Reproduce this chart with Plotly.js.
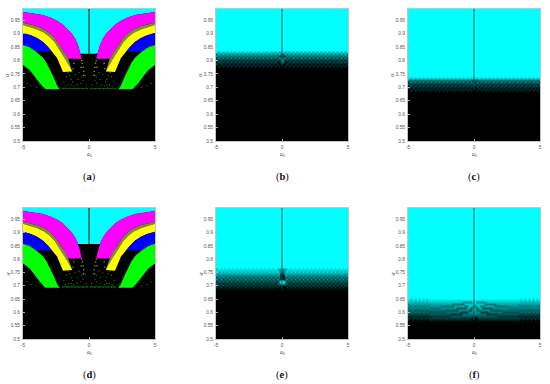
<!DOCTYPE html>
<html><head><meta charset="utf-8">
<script src="https://cdn.plot.ly/plotly-3.0.1.min.js"></script>
<style>html,body{margin:0;padding:0;background:#fff}#c{width:550px;height:384px}</style>
</head><body><div id="c"></div>
<script>
// ---- data (left half; the maps are symmetric in a0) ----
const xTicks = [-5, 0, 5];
const yTicks = [0.5,0.55,0.6,0.65,0.7,0.75,0.8,0.85,0.9,0.95];
const panelLabels = ['a','b','c','d','e','f'];

const magentaTopX = [-5,-4.3,-3.5,-2.9,-2.4,-2,-1.6,-1.3,-1.06,-0.85,-0.68,-0.55];
const magentaTopY = [0.981,0.977,0.97,0.96,0.948,0.935,0.917,0.9,0.882,0.86,0.832,0.806];
const magentaLowX = [-5,-4.5,-3.96,-3.4,-2.95,-2.6,-2.3,-2.05,-1.8,-1.57];
const magentaLowY = [0.941,0.936,0.929,0.917,0.901,0.884,0.863,0.845,0.826,0.806];
const yellowTopX = [-5,-4.5,-3.96,-3.4,-2.95,-2.6,-2.3,-2.05,-1.8,-1.47,-1.27];
const yellowTopY = [0.933,0.926,0.917,0.904,0.887,0.868,0.846,0.826,0.805,0.778,0.759];
const yellowLowX = [-5,-4.4,-3.94,-3.5,-3.1,-2.8,-2.42,-2.2,-1.97];
const yellowLowY = [0.903,0.895,0.884,0.87,0.851,0.833,0.81,0.785,0.757];
const blueLowX = [-5,-4.5,-4.1,-2.8];
const blueLowY = [0.858,0.85,0.833,0.833];
const greenTopX = [-5,-4.5,-4,-3.5,-3.2,-3,-2.7,-2.4,-2.2];
const greenTopY = [0.858,0.85,0.833,0.812,0.79,0.772,0.74,0.705,0.693];
const greenLowX = [-5,-4.5,-4.2,-3.7,-3.3];
const greenLowY = [0.784,0.765,0.746,0.714,0.693];
const cyanFloorA = 0.826, cyanFloorD = 0.857;
const plateauA = 0.807, plateauD = 0.803;

const greenSpeckX = [-2,-1.9,-1.8,-1.7,-1.6,-1.5,-1.4,-1.3,-1.2,-1.1,-1,-0.9,-0.8,-0.7,-0.6,-0.5,-0.4,-0.3,-0.2,-0.1,
 -1.9,-1.7,-1.55,-1.35,-1.6,-1.25,-1.45,-1.15,-0.85,-0.6,-0.75,-0.45,-0.3,-0.55,-0.2,-1.75,-1.05,-4.4,-4.7,-4,-3.8,-3.5,-1.35,-0.9];
const greenSpeckY = [0.696,0.695,0.697,0.695,0.696,0.695,0.697,0.695,0.696,0.695,0.697,0.695,0.696,0.695,0.697,0.695,0.696,0.695,0.697,0.695,
 0.72,0.74,0.71,0.73,0.755,0.72,0.745,0.705,0.73,0.715,0.755,0.725,0.745,0.74,0.71,0.705,0.748,0.705,0.715,0.7,0.712,0.698,0.708,0.71];
const yellowSpeckX = [-0.5,-0.45,-0.55,-0.4,-0.6,-0.42,-1.15,-1.2];
const yellowSpeckY = [0.79,0.775,0.8,0.76,0.775,0.745,0.79,0.77];

// Cyan intensity (0-9) of the fringe zones, half rows from a0=-5 to a0=0, bottom row first
const bEdges = [0.768,0.7755,0.783,0.7905,0.798,0.8055,0.813,0.8205,0.828,0.8355,0.995];
const bRows = [
 "000000000000000000000000000000000",
 "020202020202020202020202020202020",
 "202020202020202020202020202020200",
 "131313131313131313131313131313104",
 "313131313131313131313131313131314",
 "252525252525252525252525252525254",
 "535353535353535353535353535353521",
 "474747474747474747474747474747473",
 "868686868686868686868686868686868",
 "999999999999999999999999999999999"];
const cEdges = [0.678,0.6855,0.693,0.7005,0.708,0.7155,0.723,0.7305,0.738,0.995];
const cRows = [
 "000000000000000000000000000000000",
 "020202020202020202020202020202020",
 "202020202020202020202020202020200",
 "131313131313131313131313131313131",
 "313131313131313131313131313131313",
 "252525252525252525252525252525252",
 "535353535353535353535353535353533",
 "878787878787878787878787878787878",
 "999999999999999999999999999999999"];
const eEdges = [0.675,0.683,0.69,0.698,0.705,0.713,0.72,0.728,0.735,0.743,0.75,0.758,0.768,0.995];
const eRows = [
 "000000000000000000000000000000000",
 "010101010101010101010101010101001",
 "202020202020202020202020202020200",
 "131313131313131313131313131313131",
 "313131313131313131313131313131348",
 "242424242424242424242424242424259",
 "525252525252525252525252525252530",
 "353535353535353535353535353535340",
 "646464646464646464646464646464650",
 "575757575757575757575757575757571",
 "868686868686868686868686868686864",
 "797979797979797979797979797979765",
 "999999999999999999999999999999999"];
const fEdges = [0.56,0.567,0.575,0.582,0.59,0.597,0.605,0.612,0.62,0.627,0.635,0.642,0.65,0.658,0.995];
const fRows = [
 "000000000000000000000000000000000",
 "10101010101"+"111111111111111111111"+"0",
 "21212121212"+"22222222222222222222"+"10",
 "12121212121"+"2222222222"+"33333333333"+"2",
 "32323232323"+"3333333333"+"222222"+"44444"+"5",
 "34343434343"+"33333333"+"4444444"+"2222"+"555",
 "43434343434"+"44444444"+"333333"+"55555"+"33"+"6",
 "45454545454"+"44444"+"55555555"+"33333"+"66"+"3"+"6",
 "54545454545"+"55555"+"4444444"+"66666"+"44"+"77"+"4",
 "56565656565"+"66666666666"+"444444"+"7777"+"7",
 "76767676767"+"7777777777777777"+"55555"+"8",
 "87878787878"+"8888888888888888888888",
 "98989898989"+"9999999999999999999999",
 "999999999999999999999999999999999"];

// ---- plot ----
const boxes = [[23,155,9,141],[216,348,9,141],[408,540,9,141],[23,155,208,339],[216,348,208,339],[408,540,208,339]];
const W = 550, H = 384;
const traces = [];
const layout = {width:W,height:H,margin:{l:0,r:0,t:0,b:0},paper_bgcolor:'#fff',plot_bgcolor:'#000',showlegend:false,annotations:[],font:{family:'Liberation Sans, Arial, sans-serif'}};

function poly(xa,ya,xb,yb,color,ax){
  // polygon between two half-curves, drawn on both sides of a0 = 0
  const xs = xa.concat(xb.slice().reverse());
  const ys = ya.concat(yb.slice().reverse());
  const mx = xs.map(v=>-v);
  traces.push({type:'scatter',mode:'lines',x:xs.concat([xs[0],null],mx,[mx[0]]),y:ys.concat([ys[0],null],ys,[ys[0]]),
    fill:'toself',fillcolor:color,line:{width:0,color:color},hoverinfo:'skip',xaxis:ax.x,yaxis:ax.y});
}
function mapPanel(ax,floor,plateau){
  traces.push({type:'scatter',mode:'lines',x:[-5,5,5,-5,-5],y:[floor,floor,0.995,0.995,floor],fill:'toself',fillcolor:'#00ffff',line:{width:0},hoverinfo:'skip',xaxis:ax.x,yaxis:ax.y});
  poly(magentaTopX,magentaTopY,[-5,-0.55],[0.5,0.5],'#000000',ax);
  const last = magentaLowY.length-1;
  const my = magentaLowY.map((v,i)=>i===last?plateau:v);
  const ty = magentaTopY.map((v,i)=>i===magentaTopY.length-1?plateau:v);
  poly(magentaTopX,ty,magentaLowX,my,'#ff00ff',ax);
  poly(magentaLowX,my,yellowTopX,yellowTopY,'#85854a',ax);
  poly(yellowTopX,yellowTopY,yellowLowX,yellowLowY,'#ffff00',ax);
  poly(yellowLowX.slice(0,6),yellowLowY.slice(0,6),blueLowX,blueLowY,'#0000ff',ax);
  poly(greenTopX,greenTopY,greenLowX,greenLowY,'#00ff00',ax);
  const gx = greenSpeckX, rx = gx.map(v=>-v);
  traces.push({type:'scatter',mode:'markers',x:gx.concat(rx),y:greenSpeckY.concat(greenSpeckY),marker:{size:1.1,color:'#0f8a0f',symbol:'square',line:{width:0}},hoverinfo:'skip',xaxis:ax.x,yaxis:ax.y});
  const yx = yellowSpeckX, ryx = yx.map(v=>-v);
  traces.push({type:'scatter',mode:'markers',x:yx.concat(ryx),y:yellowSpeckY.concat(yellowSpeckY),marker:{size:1.3,color:'#98981c',symbol:'square',line:{width:0}},hoverinfo:'skip',xaxis:ax.x,yaxis:ax.y});
  traces.push({type:'scatter',mode:'lines',x:[0,0],y:[floor,0.995],line:{width:1,color:'#000'},hoverinfo:'skip',xaxis:ax.x,yaxis:ax.y});
}
function fringePanel(ax,edges,rows,lineBottom){
  const z = rows.map(r=>{const a=r.split('').map(Number);return a.concat(a.slice().reverse());});
  const n = z[0].length;
  // a steady row above the fringe keeps the blur from spreading into the cyan field
  const e = edges.slice(0,-1).concat([edges[edges.length-2]+0.004,edges[edges.length-1]]);
  z.push(z[z.length-1]);
  traces.push({type:'heatmap',z:z,x0:-5+5/n,dx:10/n,y:e,zmin:0,zmax:9,zsmooth:'best',showscale:false,hoverinfo:'skip',
    colorscale:[[0,'#000000'],[1,'#00ffff']],xaxis:ax.x,yaxis:ax.y});
  traces.push({type:'scatter',mode:'lines',x:[0,0],y:[lineBottom,0.995],line:{width:1,color:'#065f5f'},hoverinfo:'skip',xaxis:ax.x,yaxis:ax.y});
}
boxes.forEach((b,i)=>{
  const s = i===0?'':String(i+1);
  const common = {showgrid:false,zeroline:false,linecolor:'#c4c4c4',linewidth:1,mirror:true,ticks:'inside',ticklen:2,tickcolor:'#aaa',
    tickfont:{size:4.8,color:'#555',family:'Liberation Sans, Arial, sans-serif'}};
  layout['xaxis'+s] = Object.assign({},common,{domain:[b[0]/W,b[1]/W],range:[-5,5],tickvals:xTicks,ticktext:xTicks.map(String),anchor:'y'+s,ticklabelstandoff:1});
  layout['yaxis'+s] = Object.assign({},common,{domain:[1-b[3]/H,1-b[2]/H],range:[0.5,0.9925],tickvals:yTicks,ticktext:yTicks.map(String),anchor:'x'+s,ticklabelstandoff:1});
  const cx = (b[0]+b[1])/2;
  const mid = {xanchor:'center',yanchor:'middle',showarrow:false,xref:'paper',yref:'paper'};
  layout.annotations.push(Object.assign({x:cx/W,y:1-(b[3]+13)/H,text:'<i>a</i><sub>0</sub>',font:{size:5.5,color:'#444',family:'Liberation Serif, serif'}},mid));
  layout.annotations.push(Object.assign({x:(b[0]-16)/W,y:1-((b[2]+b[3])/2)/H,text:'<i>α</i>',textangle:-90,font:{size:6,color:'#444',family:'Liberation Serif, serif'}},mid));
  layout.annotations.push(Object.assign({x:cx/W,y:1-(b[3]+35.5)/H,text:'(<b>'+panelLabels[i]+'</b>)',font:{size:10.5,color:'#111',family:'Liberation Serif, serif'}},mid));
});
mapPanel({x:'x',y:'y'},cyanFloorA,plateauA);
fringePanel({x:'x2',y:'y2'},bEdges,bRows,0.78);
fringePanel({x:'x3',y:'y3'},cEdges,cRows,0.69);
mapPanel({x:'x4',y:'y4'},cyanFloorD,plateauD);
fringePanel({x:'x5',y:'y5'},eEdges,eRows,0.69);
fringePanel({x:'x6',y:'y6'},fEdges,fRows,0.57);
Plotly.newPlot('c',traces,layout,{staticPlot:true,displayModeBar:false});
</script></body></html>
